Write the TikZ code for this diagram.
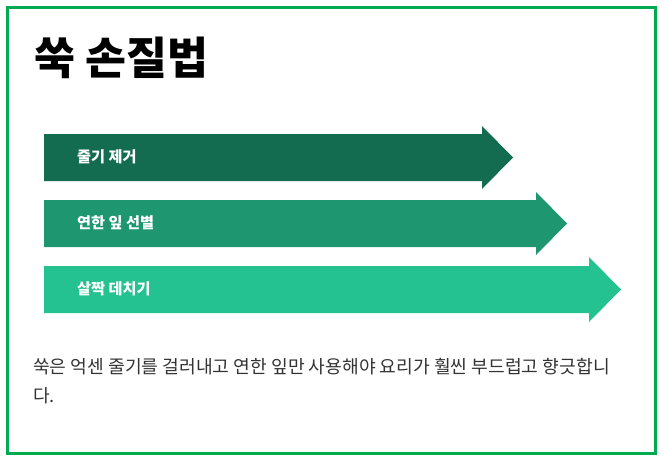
\documentclass[tikz,border=0pt]{standalone}
\usepackage{fontspec}
\setmainfont{Noto Sans CJK KR}
\definecolor{frame}{RGB}{0,170,80}
\definecolor{arA}{RGB}{19,107,80}
\definecolor{arB}{RGB}{30,150,112}
\definecolor{arC}{RGB}{36,194,144}
\definecolor{bodytxt}{RGB}{51,51,51}
\tikzset{
  steplabel/.style={anchor=west, inner sep=0pt, text=white, font=\fontsize{15.2}{17}\selectfont\bfseries},
  bodyline/.style={anchor=west, inner sep=0pt, text=bodytxt, font=\fontsize{18.2}{21}\selectfont}
}
\begin{document}
\begin{tikzpicture}[x=1pt,y=-1pt]
\useasboundingbox (0,0) rectangle (666,463);
\fill[white] (0,0) rectangle (666,463);
\draw[frame, line width=3pt] (7,7.5) rectangle (655.5,453.5);
\node[anchor=west, inner sep=0pt, font=\fontsize{44.5}{50}\selectfont\bfseries] (title) at (34,58) {쑥 손질법};
% arrows
\fill[arA] (44,134) -- (482,134) -- (482,126) -- (513,157.5) -- (482,189) -- (482,181) -- (44,181) -- cycle;
\fill[arB] (44,200) -- (536,200) -- (536,192) -- (567,223.5) -- (536,255) -- (536,247) -- (44,247) -- cycle;
\fill[arC] (44,266) -- (589,266) -- (589,257) -- (621,289.5) -- (589,322) -- (589,313) -- (44,313) -- cycle;
\node[steplabel] (s1) at (77,156.5) {줄기 제거};
\node[steplabel] (s2) at (77,222.5) {연한 잎 선별};
\node[steplabel] (s3) at (77,288.5) {살짝 데치기};
\node[bodyline] (l1) at (33,366.5) {쑥은 억센 줄기를 걸러내고 연한 잎만 사용해야 요리가 훨씬 부드럽고 향긋합니};
\node[bodyline] (l2) at (33,395.5) {다.};
\end{tikzpicture}
\end{document}
